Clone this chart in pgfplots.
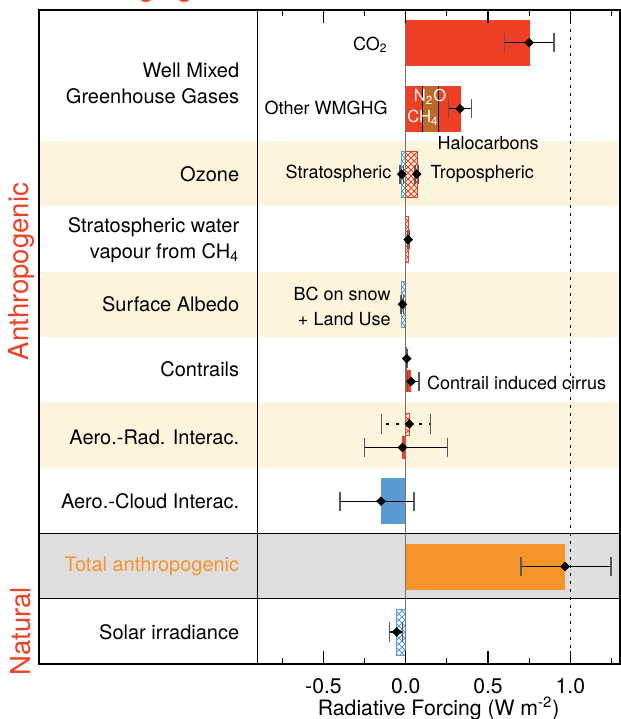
\documentclass[border=0pt]{standalone}
\usepackage{pgfplots}
\pgfplotsset{compat=1.18}
\usetikzlibrary{patterns}
\usepackage{fontspec}
\setmainfont{TeX Gyre Heros}

\definecolor{rfred}{RGB}{239,64,37}
\definecolor{rfbrown}{RGB}{188,106,38}
\definecolor{rforange}{RGB}{247,148,41}
\definecolor{rfblue}{RGB}{90,155,213}
\definecolor{rfcream}{RGB}{252,244,220}
\definecolor{rfgray}{RGB}{222,222,222}

\newcommand\lf{\fontsize{10}{13.3}\selectfont}
\newcommand\pf{\fontsize{9}{12.6}\selectfont}
\newcommand\tf{\fontsize{10.6}{12}\selectfont}
\newcommand\grpf{\fontsize{13.75}{16}\selectfont}

\pgfplotsset{
  solidbar/.style={xbar, bar shift=0pt, bar width=0.7, draw=none, fill=#1},
  hatchbar/.style={xbar, bar shift=0pt, bar width=0.7, draw=#1, line width=0.4pt,
    pattern=north east lines, pattern color=#1,
    postaction={pattern=north west lines, pattern color=#1}},
  rfmarks/.style={only marks, mark=square*, mark size=1.5pt,
    mark options={rotate=45, fill=black, draw=black, solid},
    error bars/.cd, x dir=both, x explicit,
    error bar style={black, line width=0.6pt},
    error mark options={rotate=90, draw=black!65, mark size=4.8pt, line width=0.7pt},
    /pgfplots/.cd},
}

\begin{document}
\begin{tikzpicture}
\begin{axis}[
  scale only axis, width=181pt, height=327pt,
  xmin=-0.9, xmax=1.3, ymin=0, ymax=10,
  clip=false, axis on top,
  axis line style={draw=none},
  ytick=\empty,
  xtick={-0.5,0,0.5,1}, xticklabels={-0.5,0.0,0.5,1.0},
  minor xtick={-0.75,-0.25,0.25,0.75,1.25},
  tick align=inside, xtick pos=both, xticklabel pos=lower,
  major tick length=6.5pt, minor tick length=2.8pt,
  every tick/.style={black, line width=0.6pt},
  xticklabel style={font=\tf, anchor=base, yshift=-14.5pt},
  xlabel={Radiative Forcing (W m\textsuperscript{-2})},
  xlabel style={font=\tf, at={(axis description cs:0.5,0)}, anchor=base, yshift=-25.5pt},
]
% row backgrounds
\fill[rfcream] (axis cs:-2.229,7) rectangle (axis cs:1.3,8);
\fill[rfcream] (axis cs:-2.229,5) rectangle (axis cs:1.3,6);
\fill[rfcream] (axis cs:-2.229,3) rectangle (axis cs:1.3,4);
\fill[rfgray] (axis cs:-2.229,1) rectangle (axis cs:1.3,2);

% bars
\addplot[solidbar=rfred] coordinates {(0.756,9.5)};
\addplot[solidbar=rfred] coordinates {(0.336,8.49)};
\addplot[solidbar=rfbrown] coordinates {(0.20,8.49)};
\addplot[solidbar=rfred] coordinates {(0.10,8.49)};
\addplot[black, line width=0.5pt] coordinates {(0.10,8.14) (0.10,8.84)};
\addplot[black, line width=0.5pt] coordinates {(0.20,8.14) (0.20,8.84)};
\addplot[hatchbar=rfblue] coordinates {(-0.024,7.49)};
\addplot[hatchbar=rfred] coordinates {(0.073,7.49)};
\addplot[hatchbar=rfred] coordinates {(0.016,6.49)};
\addplot[hatchbar=rfblue] coordinates {(-0.024,5.5)};
\addplot[solidbar=rfred, bar width=0.34] coordinates {(0.008,4.67)};
\addplot[solidbar=rfred, bar width=0.34] coordinates {(0.032,4.33)};
\addplot[hatchbar=rfred, bar width=0.34] coordinates {(0.022,3.665)};
\addplot[solidbar=rfred, bar width=0.36] coordinates {(-0.024,3.31)};
\addplot[solidbar=rfblue] coordinates {(-0.15,2.49)};
\addplot[solidbar=rforange] coordinates {(0.97,1.485)};
\addplot[hatchbar=rfblue] coordinates {(-0.055,0.485)};

% reference lines
\draw[black!55, line width=0.6pt] (axis cs:0,0) -- (axis cs:0,10);
\draw[black, line width=0.6pt, dash pattern=on 1.5pt off 2.5pt] (axis cs:1,0) -- (axis cs:1,10);

% best estimates and uncertainty ranges
\addplot[rfmarks] coordinates {
  (0.75,9.5)    += (0.15,0)  -= (0.15,0)
  (0.33,8.49)   += (0.07,0)  -= (0.07,0)
  (-0.024,7.49) += (0.012,0) -= (0.01,0)
  (0.067,7.49)  += (0.012,0) -= (0.01,0)
  (0.015,6.49)  += (0.006,0) -= (0.006,0)
  (-0.02,5.5)   += (0.008,0) -= (0.01,0)
  (0.006,4.67)  += (0.004,0) -= (0.003,0)
  (0.032,4.32)  += (0.048,0) -= (0.02,0)
  (-0.02,3.31)  += (0.273,0) -= (0.23,0)
  (-0.15,2.49)  += (0.20,0)  -= (0.25,0)
  (0.968,1.49)  += (0.28,0)  -= (0.268,0)
  (-0.055,0.49) += (0.035,0) -= (0.045,0)
};
\addplot[rfmarks, error bars/error bar style={black, line width=0.6pt, dash pattern=on 1.5pt off 3.5pt}] coordinates {
  (0.022,3.67) += (0.13,0) -= (0.168,0)
};

% frame
\draw[black, line width=0.7pt] (axis cs:-2.229,1) -- (axis cs:1.3,1);
\draw[black, line width=0.7pt] (axis cs:-2.229,2) -- (axis cs:1.3,2);
\draw[black, line width=0.7pt] (axis cs:-0.9,0) -- (axis cs:-0.9,10);
\draw[black, line width=1pt] (axis cs:-2.229,0) rectangle (axis cs:1.3,10);

% row labels
\begin{scope}[every node/.style={inner sep=0pt, font=\lf, anchor=east, align=right}]
\node at (axis cs:-1.01,8.88) {Well Mixed\\Greenhouse Gases};
\node at (axis cs:-1.01,7.49) {Ozone};
\node at (axis cs:-1.01,6.48) {Stratospheric water\\vapour from CH\textsubscript{4}};
\node at (axis cs:-1.01,5.5) {Surface Albedo};
\node at (axis cs:-1.01,4.5) {Contrails};
\node at (axis cs:-1.01,3.47) {Aero.-Rad. Interac.};
\node at (axis cs:-1.01,2.49) {Aero.-Cloud Interac.};
\node[text=rforange] at (axis cs:-1.01,1.5) {Total anthropogenic};
\node at (axis cs:-1.01,0.49) {Solar irradiance};
\end{scope}
% labels inside the plot
\begin{scope}[every node/.style={inner sep=0pt, font=\pf, anchor=east, align=right}]
\node at (axis cs:-0.108,9.47) {CO\textsubscript{2}};
\node at (axis cs:-0.108,8.5) {Other WMGHG};
\node[anchor=center, text=white, font=\fontsize{8.3}{10}\selectfont] at (axis cs:0.148,8.67) {N\textsubscript{2}O};
\node[anchor=center, text=white, font=\fontsize{8.3}{10}\selectfont] at (axis cs:0.105,8.35) {CH\textsubscript{4}};
\node[anchor=center] at (axis cs:0.50,7.97) {Halocarbons};
\node at (axis cs:-0.085,7.49) {Stratospheric};
\node[anchor=west] at (axis cs:0.148,7.49) {Tropospheric};
\node at (axis cs:-0.09,5.47) {BC on snow\\+ Land Use};
\node[anchor=west] at (axis cs:0.128,4.30) {Contrail induced cirrus};
\end{scope}

% group labels
\node[rotate=90, text=rfred, font=\grpf, inner sep=0pt] at (axis cs:-2.333,6.0) {Anthropogenic};
\node[rotate=90, text=rfred, font=\grpf, inner sep=0pt] at (axis cs:-2.339,0.5) {Natural};
\node[anchor=base, text=rfred, font=\grpf, inner sep=0pt] at (axis cs:-1.573,10.203) {Forcing agent};

\coordinate (bbsw) at (axis cs:-2.466,-0.841);
\coordinate (bbne) at (axis cs:1.3,10.153);
\end{axis}
\pgfresetboundingbox
\useasboundingbox (bbsw) rectangle ([xshift=0.5pt]bbne);
\end{tikzpicture}
\end{document}
